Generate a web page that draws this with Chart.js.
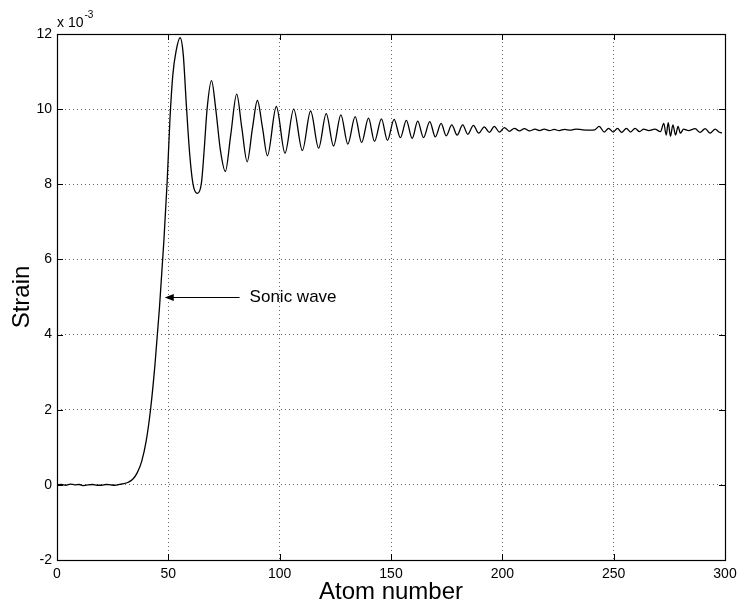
<!DOCTYPE html>
<html>
<head>
<meta charset="utf-8">
<script src="https://cdn.jsdelivr.net/npm/chart.js@4/dist/chart.umd.min.js"></script>
<style>
  html, body { margin: 0; padding: 0; background: #fff; }
  #wrap { width: 739px; height: 605px; position: relative; }
</style>
</head>
<body>
<div id="wrap"><canvas id="c" width="739" height="605"></canvas></div>
<script>
// ---- Data (strain in units of 1e-3) ----
const atomNumber = [
  0, 2, 4, 6, 8, 10, 12, 14, 16, 18, 20, 22, 24, 26, 28, 30, 32, 34, 36, 38,
  40, 42, 44, 46, 48, 49.5, 50.7, 52, 53.5, 55.3, 56.7, 58.1, 59.6, 61.1, 63.1,
  64.9, 66.2, 67.4, 69.4, 71.3, 73.4, 75.6, 78.0, 80.7, 83.0, 85.4, 87.8, 90.0,
  92.3, 94.5, 98.5, 102.4, 106.3, 110.2, 113.9, 117.5, 120.9, 124.2, 127.5,
  130.6, 133.9, 136.8, 139.9, 142.6, 145.7, 148.4, 151.4, 154.2, 156.9, 159.5,
  162.0, 164.6, 167.4, 169.9, 172.5, 174.8, 177.3, 179.7, 182.2, 184.5, 187.0,
  189.4, 191.9, 194.2, 196.4, 198.7, 200.9, 203.2, 205.4, 207.7, 209.9, 212.2,
  214.7, 216.7, 218.8, 221.2, 223.3, 225.5, 228, 230.5, 233, 236, 239, 241.5,
  243.5, 245.8, 247.7, 249.8, 251.7, 253.6, 255.7, 257.6, 259.6, 261.6, 263.5,
  265.8, 268.5, 271.0, 272.5, 273.6, 274.5, 275.5, 276.6, 277.8, 278.9, 280,
  281.4, 283.6, 286.6, 288.8, 291.1, 293.3, 295.6, 297.1, 298.6
];
const strain = [
  0.00, 0.01, -0.01, 0.02, 0.00, 0.01, -0.02, 0.00, 0.01, -0.01, -0.01, 0.01, 0.00, -0.01, 0.01, 0.03, 0.07, 0.15, 0.32, 0.62,
  1.15, 2.0, 3.2, 4.7, 6.5, 8.1, 9.7, 10.9, 11.55, 11.9, 11.45, 10.1, 8.8, 8.0, 7.76,
  8.05, 9.0, 10.0, 10.76, 10.0, 8.9, 8.34, 9.3, 10.4, 9.5, 8.6, 9.5, 10.23,
  9.5, 8.76, 10.07, 8.83, 10.0, 8.90, 9.95, 8.96, 9.88, 9.02, 9.85,
  9.07, 9.80, 9.11, 9.76, 9.14, 9.74, 9.17, 9.73, 9.24, 9.70, 9.22,
  9.68, 9.24, 9.67, 9.26, 9.62, 9.29, 9.58, 9.31, 9.58, 9.33, 9.57,
  9.36, 9.53, 9.38, 9.54, 9.39, 9.51, 9.41, 9.49, 9.42, 9.48, 9.42,
  9.47, 9.43, 9.47, 9.43, 9.46, 9.43, 9.46, 9.44, 9.47, 9.45, 9.44, 9.45,
  9.54, 9.39, 9.49, 9.39, 9.49, 9.38, 9.49, 9.39, 9.49, 9.40, 9.47,
  9.43, 9.47, 9.40, 9.62, 9.31, 9.64, 9.28, 9.58, 9.31, 9.54, 9.36,
  9.47, 9.43, 9.48, 9.38, 9.48, 9.36, 9.47, 9.40, 9.36
];
const xTicks = [0, 50, 100, 150, 200, 250, 300];
const yTicks = [-2, 0, 2, 4, 6, 8, 10, 12];
const exponentLabel = ['x 10', '-3'];
const annotationText = 'Sonic wave';
const arrowTip = { atom: 48.4, strain: 5 };
const arrowTail = { atom: 82, strain: 5 };
const textStart = { atom: 86.5, strain: 5 };

const FONT = "'Liberation Sans', Arial, Helvetica, sans-serif";

const points = atomNumber.map((a, i) => ({ x: a, y: strain[i] }));

const framePlugin = {
  id: 'frame',
  afterDatasetsDraw(chart) {
    const { ctx, chartArea: ca, scales } = chart;
    const xs = scales.x, ys = scales.y;
    ctx.save();
    ctx.strokeStyle = '#000';
    ctx.lineWidth = 1;
    // inward tick marks on all four sides
    const tl = 6;
    ctx.beginPath();
    xTicks.forEach(v => {
      const px = Math.round(xs.getPixelForValue(v)) + 0.5;
      ctx.moveTo(px, ca.bottom); ctx.lineTo(px, ca.bottom - tl);
      ctx.moveTo(px, ca.top); ctx.lineTo(px, ca.top + tl);
    });
    yTicks.forEach(v => {
      const py = Math.round(ys.getPixelForValue(v)) + 0.5;
      ctx.moveTo(ca.left, py); ctx.lineTo(ca.left + tl, py);
      ctx.moveTo(ca.right, py); ctx.lineTo(ca.right - tl, py);
    });
    ctx.stroke();
    // frame box
    ctx.lineWidth = 1.2;
    ctx.strokeRect(Math.round(ca.left) + 0.5, Math.round(ca.top) + 0.5,
                   Math.round(ca.right - ca.left), Math.round(ca.bottom - ca.top));
    // exponent label
    ctx.fillStyle = '#000';
    ctx.textBaseline = 'alphabetic';
    ctx.textAlign = 'left';
    ctx.font = '14px ' + FONT;
    ctx.fillText(exponentLabel[0], ca.left, ca.top - 7);
    const w = ctx.measureText(exponentLabel[0]).width;
    ctx.font = '10px ' + FONT;
    ctx.fillText(exponentLabel[1], ca.left + w + 1, ca.top - 16);
    // annotation arrow
    const tipX = xs.getPixelForValue(arrowTip.atom), tipY = Math.round(ys.getPixelForValue(arrowTip.strain)) + 0.5;
    const tailX = xs.getPixelForValue(arrowTail.atom);
    ctx.lineWidth = 1;
    ctx.beginPath();
    ctx.moveTo(tailX, tipY); ctx.lineTo(tipX + 2, tipY);
    ctx.stroke();
    ctx.beginPath();
    ctx.moveTo(tipX, tipY);
    ctx.lineTo(tipX + 9, tipY - 3.5);
    ctx.lineTo(tipX + 9, tipY + 3.5);
    ctx.closePath();
    ctx.fill();
    ctx.font = '17px ' + FONT;
    ctx.textBaseline = 'middle';
    ctx.fillText(annotationText, xs.getPixelForValue(textStart.atom), ys.getPixelForValue(textStart.strain));
    ctx.restore();
  }
};

new Chart(document.getElementById('c'), {
  type: 'line',
  data: {
    datasets: [{
      data: points,
      borderColor: '#000',
      borderWidth: 1.3,
      pointRadius: 0,
      fill: false,
      cubicInterpolationMode: 'monotone'
    }]
  },
  options: {
    responsive: false,
    animation: false,
    devicePixelRatio: 1,
    layout: { padding: { left: 0, top: 34, right: 14, bottom: 0 } },
    plugins: { legend: { display: false }, tooltip: { enabled: false } },
    scales: {
      x: {
        type: 'linear',
        min: 0, max: 300,
        afterFit(s) { s.height = 45; s.paddingLeft = 0; s.paddingRight = 0; },
        afterBuildTicks(s) { s.ticks = xTicks.map(v => ({ value: v })); },
        grid: {
          drawTicks: false,
          color: 'rgba(0,0,0,0.6)',
          lineWidth: 1
        },
        border: { display: false, dash: [1, 3] },
        ticks: {
          color: '#000',
          font: { family: FONT, size: 14 },
          padding: 6,
          maxRotation: 0
        },
        title: {
          display: true,
          text: 'Atom number',
          color: '#000',
          font: { family: FONT, size: 24 },
          padding: { top: 0, bottom: -2 }
        }
      },
      y: {
        type: 'linear',
        min: -2, max: 12,
        afterFit(s) { s.width = 57; s.paddingTop = 0; s.paddingBottom = 0; },
        afterBuildTicks(s) { s.ticks = yTicks.map(v => ({ value: v })); },
        grid: {
          drawTicks: false,
          color: 'rgba(0,0,0,0.6)',
          lineWidth: 1
        },
        border: { display: false, dash: [1, 3] },
        ticks: {
          color: '#000',
          font: { family: FONT, size: 14 },
          padding: 5
        },
        title: {
          display: true,
          text: 'Strain',
          color: '#000',
          font: { family: FONT, size: 24 },
          padding: { top: 8, bottom: 0 }
        }
      }
    }
  },
  plugins: [framePlugin]
});
</script>
</body>
</html>
